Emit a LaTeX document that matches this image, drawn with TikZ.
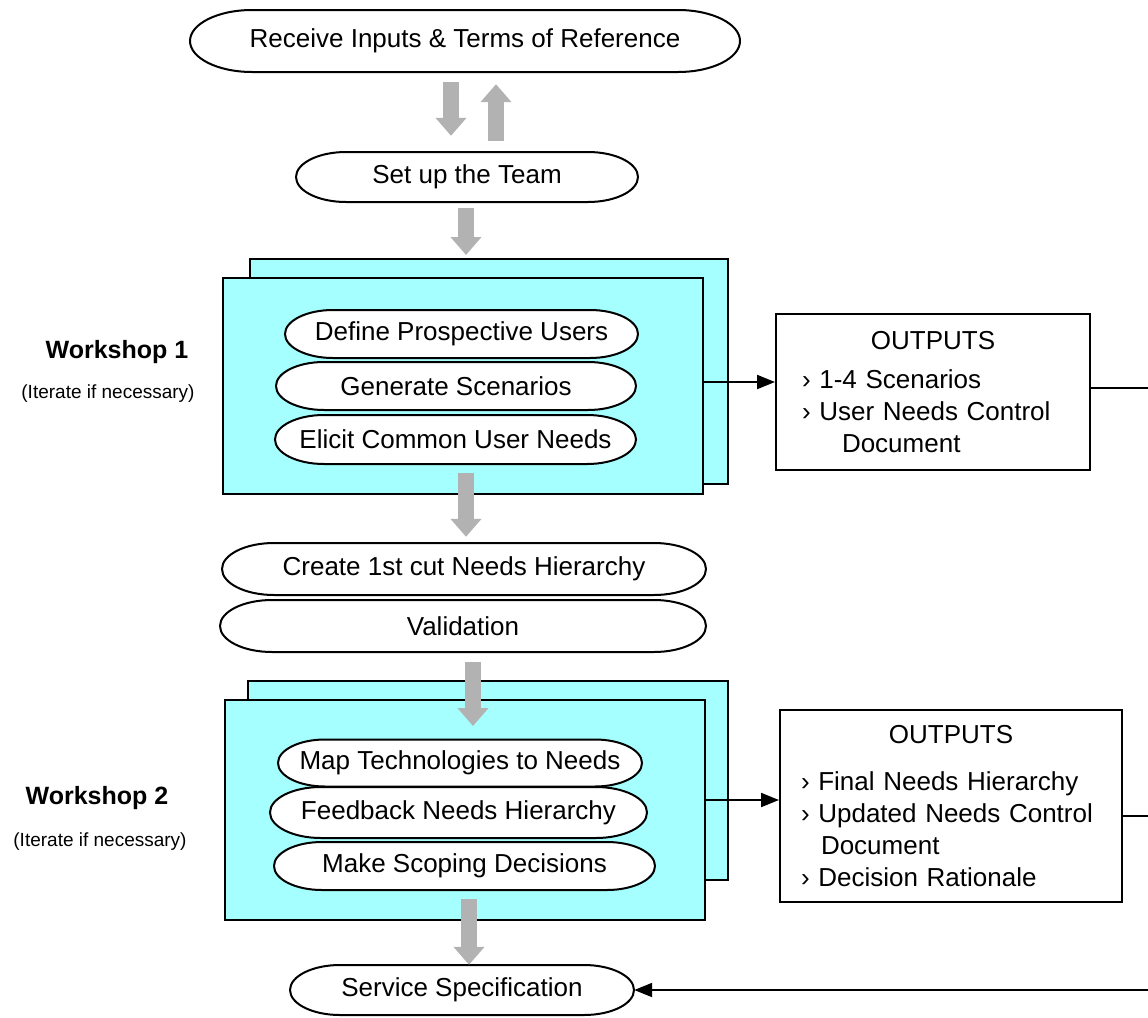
\documentclass[tikz,border=0pt]{standalone}
\usepackage{fontspec}
\setmainfont{Liberation Sans}
\usetikzlibrary{positioning,arrows.meta}
\definecolor{boxcyan}{RGB}{166,255,255}
\definecolor{arrowgrey}{RGB}{178,178,178}

% pill with elliptical ends: name, centre, width, height, text
\newcommand{\pill}[5]{%
  \filldraw[pillline] (#2) ++(-#3/2+#4,-#4/2) -- ++(#3-2*#4,0)
    arc[start angle=90, end angle=-90, x radius={#4*1pt}, y radius={#4*0.5pt}]
    -- ++(-#3+2*#4,0)
    arc[start angle=270, end angle=90, x radius={#4*1pt}, y radius={#4*0.5pt}] -- cycle;
  \node[minimum width=#3pt, minimum height=#4pt, inner sep=0pt] (#1) at (#2) {#5};}

\begin{document}
\begin{tikzpicture}[%
    x=1pt,
    y=-1pt,
    every node/.style={font=\fontsize{26}{32}\selectfont},
    pillline/.style={%
      draw=black,
      line width=2pt,
      fill=white
    },
    wsbox/.style={%
      rectangle,
      draw,
      line width=2pt,
      fill=boxcyan,
      inner sep=0pt
    },
    outbox/.style={%
      rectangle,
      draw,
      line width=2pt,
      inner sep=0pt
    },
    wslabel/.style={font=\fontsize{25}{30}\selectfont\bfseries},
    itlabel/.style={font=\fontsize{19}{22}\selectfont},
    bigarrow/.style={%
      draw=arrowgrey,
      line width=16pt,
      -{Triangle[length=18pt,width=30pt]}
    },
    thinarrow/.style={%
      line width=2pt,
      -{Triangle[length=18pt,width=14pt]}
    }
  ]
    \useasboundingbox (0,0) rectangle (1148,1017);

    \pill{recv}{465,41}{550}{62}{Receive Inputs \& Terms of Reference}
    \pill{team}{467,177}{342}{50}{Set up the Team}

    \node[wsbox, minimum width=478pt, minimum height=225pt] (ws1back) at (489,371.5) {};
    \node[wsbox, minimum width=480pt, minimum height=216pt] (ws1) at (463,386) {};
    \pill{define}{461.5,334}{353}{48}{Define Prospective Users}
    \pill{generate}{456,386}{360}{48}{Generate Scenarios}
    \pill{elicit}{455.5,439.5}{361}{49}{Elicit Common User Needs}
    \node[wslabel] (ws1lbl) at (117,352) {Workshop 1};
    \node[itlabel] (ws1it) at (108,394) {(Iterate if necessary)};

    \node[outbox, minimum width=314pt, minimum height=156pt, text width=262pt] (out1) at (933,392)
      {\centering OUTPUTS\par\vspace{7pt}\raggedright › 1-4 Scenarios\\ › User Needs Control\\ \hspace*{40pt}Document};

    \pill{create}{464,569}{484}{52}{Create 1st cut Needs Hierarchy}
    \pill{valid}{463,626}{486}{52}{Validation}

    \node[wsbox, minimum width=480pt, minimum height=199pt] (ws2back) at (488,780.5) {};
    \node[wsbox, minimum width=480pt, minimum height=220pt] (ws2) at (465,810) {};
    \pill{map}{460,763}{364}{47}{Map Technologies to Needs}
    \pill{feedback}{458.5,812.5}{377}{51}{Feedback Needs Hierarchy}
    \pill{scoping}{464.5,866}{381}{48}{Make Scoping Decisions}
    \node[wslabel] (ws2lbl) at (97,798) {Workshop 2};
    \node[itlabel] (ws2it) at (100,842) {(Iterate if necessary)};

    \node[outbox, minimum width=342pt, minimum height=192pt, text width=300pt] (out2) at (951,806)
      {\centering OUTPUTS\par\vspace{15pt}\raggedright › Final Needs Hierarchy\\ › Updated Needs Control\\ \hspace*{20pt}Document\\ › Decision Rationale};

    \pill{service}{462,990}{344}{50}{Service Specification}

    \coordinate (exit1) at (1148,388);
    \coordinate (exit2) at (1148,816);
    \coordinate (back) at (1148,990);

    \draw[bigarrow, shorten <=10pt, shorten >=16pt] ([xshift=-14pt]recv.south) -- ([xshift=-16pt]team.north);
    \draw[bigarrow, shorten <=11pt, shorten >=12pt] ([xshift=29pt]team.north) -- ([xshift=31pt]recv.south);
    \draw[bigarrow, shorten <=6pt, shorten >=3pt] ([xshift=-1pt]team.south) -- ([xshift=-23pt]ws1back.north);
    \draw[bigarrow, shorten >=6pt] ([xshift=3pt,yshift=22pt]ws1.south) -- ([xshift=2pt]create.north);
    \draw[bigarrow, shorten <=10pt] ([xshift=10pt]valid.south) -- ([xshift=8pt,yshift=-27pt]ws2.north);
    \draw[bigarrow] ([xshift=4pt,yshift=22pt]ws2.south) -- ([xshift=7pt]service.north);

    \draw[thinarrow] ([yshift=4pt]ws1.east) -- ([yshift=10pt]out1.west);
    \draw[thinarrow] ([yshift=10pt]ws2.east) -- ([yshift=6pt]out2.west);
    \draw[line width=2pt] ([yshift=4pt]out1.east) -- (exit1);
    \draw[line width=2pt] ([yshift=-10pt]out2.east) -- (exit2);
    \draw[thinarrow] (back) -- (service.east);
\end{tikzpicture}
\end{document}
